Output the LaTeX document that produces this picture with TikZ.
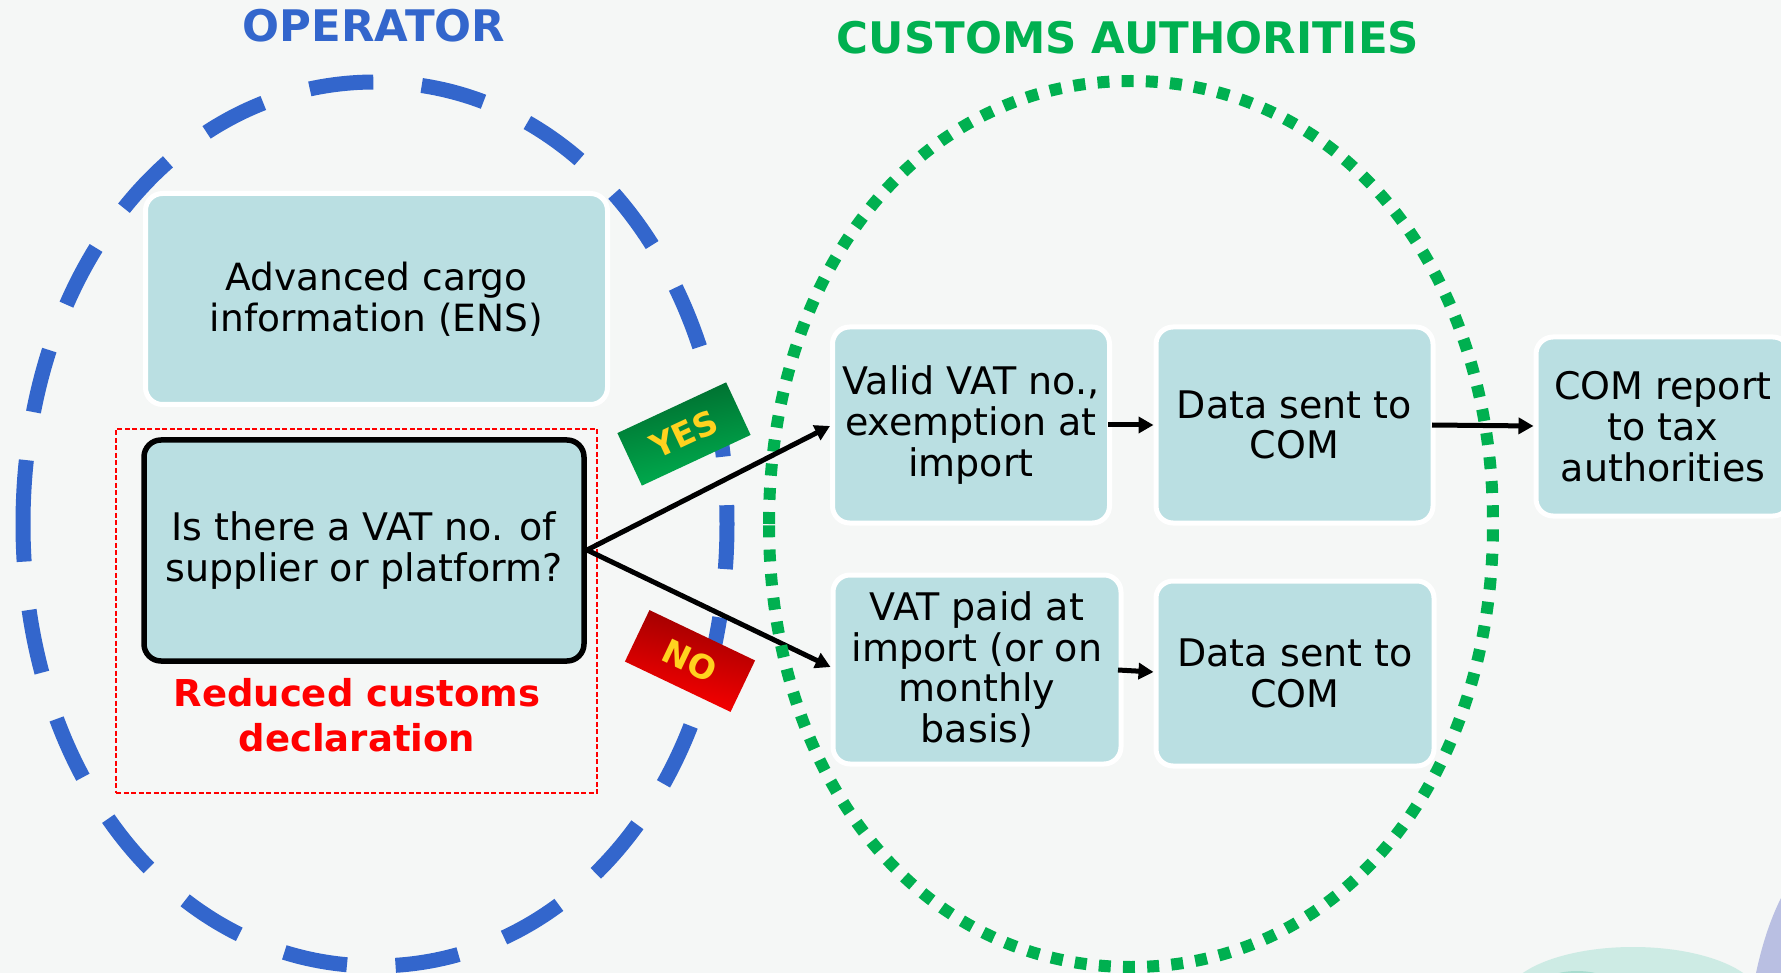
\documentclass[tikz,border=0pt]{standalone}
\usepackage{fontspec}
\setmainfont{DejaVu Sans}
\usetikzlibrary{arrows.meta,shapes.geometric}
\definecolor{bgc}{HTML}{F5F7F6}
\definecolor{boxc}{HTML}{BADFE2}
\definecolor{opblue}{HTML}{3366CC}
\definecolor{cugreen}{HTML}{00B050}
\definecolor{dkgreen}{HTML}{006B2E}
\definecolor{dkred}{HTML}{9A0000}
\definecolor{tagyellow}{HTML}{FFD21F}
\definecolor{decoteal}{HTML}{CDEBE4}
\definecolor{decoinner}{HTML}{A8DCCF}
\definecolor{decolav}{HTML}{B9BFE2}
% oval slightly rounder than a true ellipse: centre x, centre y, radius x, radius y, kappa; starts at the west point, goes up
\newcommand\roundoval[5]{({#1-#3},#2)
  .. controls ({#1-#3},{#2-#5*#4}) and ({#1-#5*#3},{#2-#4}) .. (#1,{#2-#4})
  .. controls ({#1+#5*#3},{#2-#4}) and ({#1+#3},{#2-#5*#4}) .. ({#1+#3},#2)
  .. controls ({#1+#3},{#2+#5*#4}) and ({#1+#5*#3},{#2+#4}) .. (#1,{#2+#4})
  .. controls ({#1-#5*#3},{#2+#4}) and ({#1-#3},{#2+#5*#4}) .. ({#1-#3},#2)}
\tikzset{
  x=1pt,y=-1pt,
  flowbox/.style={rectangle,rounded corners=17pt,fill=boxc,draw=white,line width=5pt,inner sep=0pt,align=center,
    font=\fontsize{38}{40.8}\selectfont,text=black},
  decisionbox/.style={flowbox,draw=black,line width=5.5pt},
  title/.style={font=\fontsize{43.5}{50}\selectfont\bfseries},
  flowarrow/.style={draw=black,line width=5pt,-{Triangle[length=15pt,width=16pt]}},
  tagbox/.style={rectangle,inner sep=0pt,minimum width=120pt,minimum height=58pt,text=tagyellow,font=\fontsize{33}{36}\selectfont\bfseries},
}
\begin{document}
\begin{tikzpicture}
\useasboundingbox (0,0) rectangle (1781,973);
\clip (0,0) rectangle (1781,973);
\fill[bgc] (0,0) rectangle (1781,973);
% corner decoration
\fill[decoteal] (1633,1000) ellipse [x radius=128,y radius=53];
\fill[decoinner] (1577,1000) ellipse [x radius=50,y radius=29];
\fill[decolav] (1756,973) .. controls (1762,945) and (1770,920) .. (1781,898) -- (1781,973) -- cycle;
% operator oval
\draw[opblue,line width=15pt,dash pattern=on 64pt off 48.6pt] \roundoval{375}{524}{352}{442}{0.57};
% titles
\node[title,text=opblue] (optitle) at (374,26) {OPERATOR};
\node[title,text=cugreen] (cutitle) at (1128,38) {CUSTOMS AUTHORITIES};
% reduced declaration frame
\node[draw=red,line width=1.5pt,dash pattern=on 5pt off 2.5pt,minimum width=481pt,minimum height=364pt,inner sep=0pt] (frame) at (356.5,611) {};
\node[text=red,align=center,font=\fontsize{37}{45}\selectfont\bfseries] (redlabel) at (357,715) {Reduced customs\\declaration};
% boxes
\node[flowbox,font=\fontsize{37.5}{40.8}\selectfont,minimum width=462pt,minimum height=211pt] (ens) at (376.5,299) {Advanced cargo\\information (ENS)};
\node[decisionbox,minimum width=440pt,minimum height=221pt] (vat) at (364,550.5) {Is there a VAT no. of\\supplier or platform?};
\node[flowbox,minimum width=277pt,minimum height=196pt] (valid) at (971,425) {Valid VAT no.,\\exemption at\\import};
\node[flowbox,minimum width=277pt,minimum height=196pt] (data1) at (1294.5,425) {Data sent to\\COM};
\node[flowbox,minimum width=288pt,minimum height=189pt] (paid) at (977,669.5) {VAT paid at\\import (or on\\monthly\\basis)};
\node[flowbox,minimum width=278pt,minimum height=185pt] (data2) at (1295,673.5) {Data sent to\\COM};
\node[flowbox,minimum width=254pt,minimum height=179pt] (report) at (1663,426.5) {COM report\\to tax\\authorities};
% tags
\node[tagbox,rotate=25,top color=dkgreen,bottom color=cugreen,shading angle=12] (yes) at (684,434) {YES};
\node[tagbox,rotate=-25.5,minimum width=117pt,minimum height=57pt,top color=dkred,bottom color=red,shading angle=-12] (no) at (690,661) {NO};
% connectors under the customs oval
\coordinate (fork) at (587,550);
\draw[flowarrow] (fork) -- (paid.west|-0,667);
\draw[flowarrow] (1108,425) -- (data1.west|-0,425);
\draw[flowarrow] (1118,670) -- (data2.west|-0,672);
\draw[flowarrow] (1432,425) -- (report.west|-0,426);
% customs oval
\draw[cugreen,line width=12pt,dash pattern=on 12pt off 12.2pt] \roundoval{1131}{524}{362}{443}{0.579};
% connector over the customs oval
\draw[flowarrow] (fork) -- (valid.west|-0,426);
\end{tikzpicture}
\end{document}
